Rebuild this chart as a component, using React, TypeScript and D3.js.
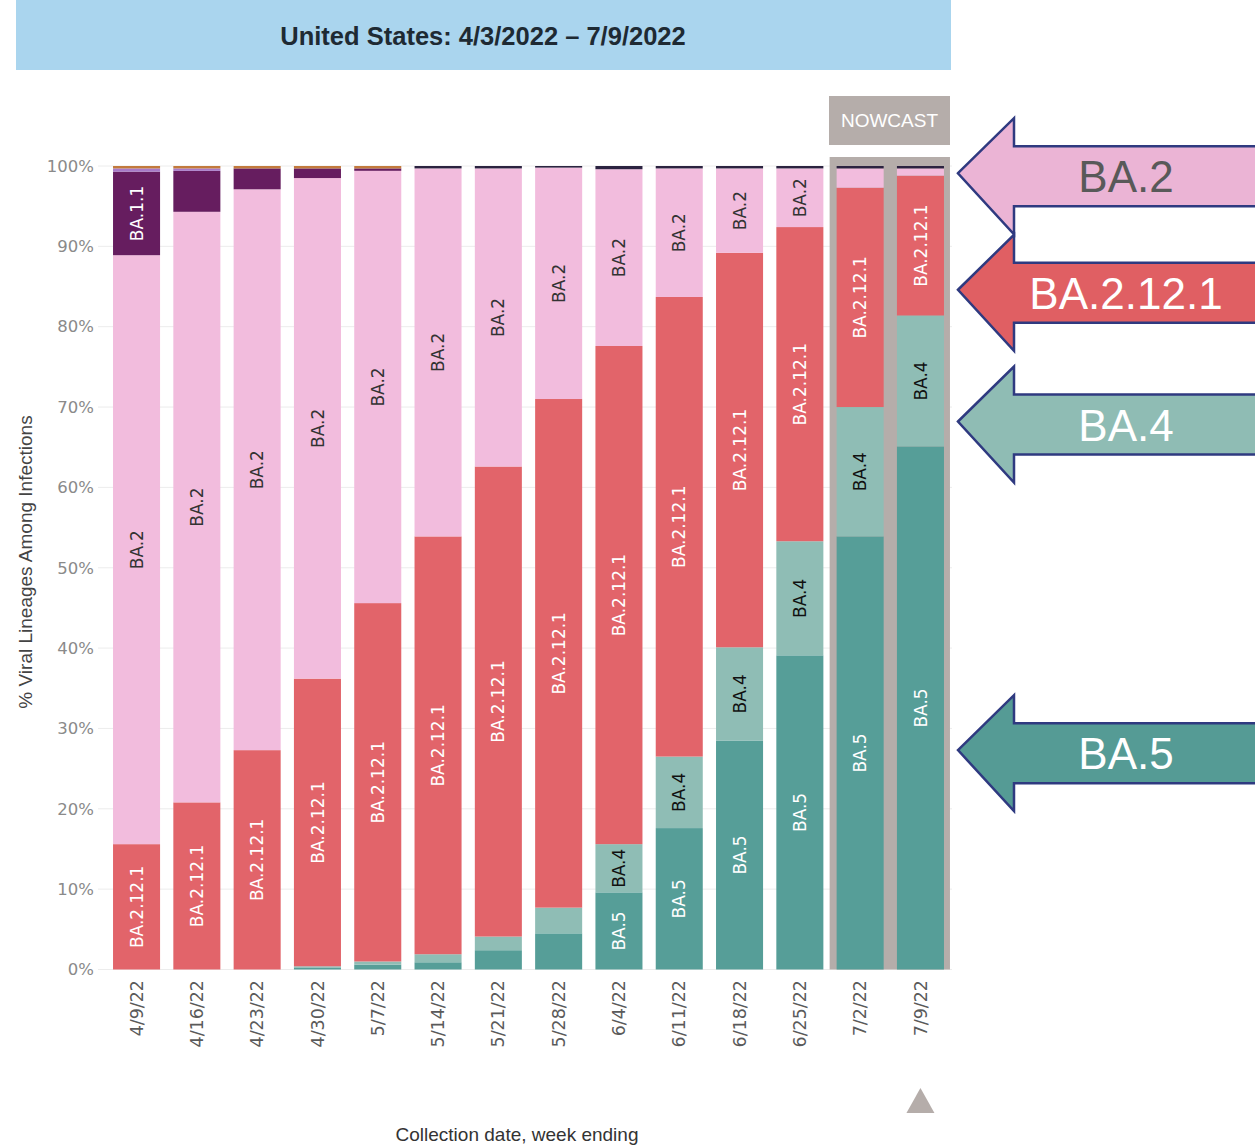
import * as d3 from "d3";

// week ending dates (x categories)
const weeks = ["4/9/22", "4/16/22", "4/23/22", "4/30/22", "5/7/22", "5/14/22", "5/21/22", "5/28/22", "6/4/22", "6/11/22", "6/18/22", "6/25/22", "7/2/22", "7/9/22"];
const nowcastWeeks = ["7/2/22", "7/9/22"];

// lineage shares in %, bottom -> top of each bar
const lineages = ["BA.5", "BA.4", "BA.2.12.1", "BA.2", "BA.1.1", "BA.1", "B.1.1.529", "Other"];
const ba5 = [0, 0, 0, 0.2, 0.6, 0.9, 2.4, 4.5, 9.6, 17.6, 28.5, 39.1, 53.9, 65.1];
const ba4 = [0, 0, 0, 0.2, 0.4, 1.0, 1.7, 3.2, 6.0, 8.9, 11.6, 14.2, 16.1, 16.3];
const ba2121 = [15.6, 20.8, 27.3, 35.8, 44.6, 52.0, 58.5, 63.3, 62.0, 57.2, 49.1, 39.1, 27.3, 17.4];
const ba2 = [73.3, 73.5, 69.8, 62.3, 53.8, 45.8, 37.1, 28.8, 22.0, 16.0, 10.5, 7.3, 2.4, 0.9];
const ba11 = [10.4, 5.1, 2.6, 1.2, 0.3, 0, 0, 0, 0, 0, 0, 0, 0, 0];
const ba1 = [0.4, 0.3, 0, 0, 0, 0, 0, 0, 0, 0, 0, 0, 0, 0];
const b11529 = [0, 0, 0, 0, 0, 0.3, 0.3, 0.2, 0.4, 0.3, 0.3, 0.3, 0.3, 0.3];
const other = [0.3, 0.3, 0.3, 0.3, 0.3, 0, 0, 0, 0, 0, 0, 0, 0, 0];

const yTicks = [0, 10, 20, 30, 40, 50, 60, 70, 80, 90, 100];

// callout arrows on the right: label and the % level they point at
const calloutLabels = ["BA.2", "BA.2.12.1", "BA.4", "BA.5"];
const calloutLevels = [99.1, 84.6, 68.2, 27.3];

const colors: Record<string, string> = {
  "BA.5": "#569e98",
  "BA.4": "#8fbdb5",
  "BA.2.12.1": "#e2646a",
  "BA.2": "#f2bcdd",
  "BA.1.1": "#661d5f",
  "BA.1": "#a77ac9",
  "B.1.1.529": "#2b2340",
  Other: "#c27a3c",
};
const labelColors: Record<string, string> = {
  "BA.5": "#ffffff",
  "BA.4": "#111111",
  "BA.2.12.1": "#ffffff",
  "BA.2": "#333333",
  "BA.1.1": "#ffffff",
};
const arrowFill: Record<string, string> = {
  "BA.2": "#ebb4d5",
  "BA.2.12.1": "#e05f63",
  "BA.4": "#8fbcb4",
  "BA.5": "#559b95",
};

const W = 1255;
const H = 1145;
const NOW_GRAY = "#b5adaa";
const sans = "'Liberation Sans', Arial, sans-serif";
const dejavu = "'DejaVu Sans', sans-serif";

export default function App() {
  const series = [ba5, ba4, ba2121, ba2, ba11, ba1, b11529, other];
  const table = weeks.map((w, i) => {
    const row: any = { week: w };
    lineages.forEach((l, k) => (row[l] = series[k][i]));
    return row;
  });
  const stacked = d3.stack<any>().keys(lineages)(table);

  const x = d3.scaleBand<string>().domain(weeks).range([106.4, 950.6]).paddingInner(0.22).paddingOuter(0.11);
  const y = d3.scaleLinear().domain([0, 100]).range([969.5, 166]);

  const firstNow = x(nowcastWeeks[0])!;
  const lastNow = x(nowcastWeeks[nowcastWeeks.length - 1])! + x.bandwidth();
  const labelFont = 17;

  return (
    <svg width={W} height={H} style={{ position: "absolute", left: 0, top: 0 }}>
      <rect width={W} height={H} fill="#ffffff" />

      {/* title banner */}
      <rect x={16} y={0} width={935} height={70} fill="#aad5ee" />
      <text x={483} y={45} textAnchor="middle" fontFamily={sans} fontWeight="bold" fontSize={25.5} fill="#1e2a33">
        United States: 4/3/2022 – 7/9/2022
      </text>

      {/* gridlines */}
      {yTicks.map((t) => (
        <line key={t} x1={98} x2={952} y1={y(t)} y2={y(t)} stroke="#ececec" strokeWidth={1} />
      ))}

      {/* nowcast frame */}
      <rect x={829} y={96} width={121} height={49} fill={NOW_GRAY} />
      <text x={889.5} y={127} textAnchor="middle" fontFamily={sans} fontSize={19} fill="#ffffff">
        NOWCAST
      </text>
      <rect x={firstNow - 7} y={y(100) - 9} width={lastNow - firstNow + 13} height={y(0) - y(100) + 9} fill={NOW_GRAY} />

      {/* stacked bars */}
      {stacked.map((s) =>
        s.map((d, i) => {
          const h = y(d[0]) - y(d[1]);
          if (h <= 0) return null;
          return (
            <rect key={s.key + i} x={x(weeks[i])} y={y(d[1])} width={x.bandwidth()} height={h} fill={colors[s.key]} />
          );
        })
      )}

      {/* in-bar labels */}
      {stacked.map((s) =>
        s.map((d, i) => {
          const h = y(d[0]) - y(d[1]);
          const need = s.key.length * 0.56 * labelFont + 8;
          if (!labelColors[s.key] || h < need) return null;
          const cx = x(weeks[i])! + x.bandwidth() / 2;
          const cy = (y(d[0]) + y(d[1])) / 2;
          return (
            <text
              key={"l" + s.key + i}
              transform={`translate(${cx},${cy}) rotate(-90)`}
              textAnchor="middle"
              dy="0.36em"
              fontFamily={dejavu}
              fontSize={labelFont}
              fill={labelColors[s.key]}
            >
              {s.key}
            </text>
          );
        })
      )}

      {/* y axis labels */}
      {yTicks.map((t) => (
        <text key={"t" + t} x={94} y={y(t)} dy="0.35em" textAnchor="end" fontFamily={dejavu} fontSize={16.5} fill="#8a8a8a">
          {t}%
        </text>
      ))}
      <text transform={`translate(32,562) rotate(-90)`} textAnchor="middle" fontFamily={sans} fontSize={19} fill="#444">
        % Viral Lineages Among Infections
      </text>

      {/* x axis labels */}
      {weeks.map((w) => (
        <text
          key={"x" + w}
          transform={`translate(${x(w)! + x.bandwidth() / 2},980) rotate(-90)`}
          textAnchor="end"
          dy="0.35em"
          fontFamily={dejavu}
          fontSize={17.5}
          fill="#5a5a5a"
        >
          {w}
        </text>
      ))}
      <text x={517} y={1141} textAnchor="middle" fontFamily={sans} fontSize={19} fill="#333">
        Collection date, week ending
      </text>

      {/* nowcast marker */}
      {(() => {
        const cx = x(nowcastWeeks[nowcastWeeks.length - 1])! + x.bandwidth() / 2;
        return <path d={`M${cx},1088 L${cx + 14},1113 L${cx - 14},1113 Z`} fill={NOW_GRAY} />;
      })()}

      {/* callout arrows */}
      {calloutLabels.map((lab, i) => {
        const ty = y(calloutLevels[i]);
        const cy = ty + 3;
        const tipX = 958;
        const backX = 1014;
        const head = 58;
        const shaft = 30;
        const d = `M${tipX},${ty} L${backX},${cy - head} L${backX},${cy - shaft} L${W + 10},${cy - shaft} L${W + 10},${cy + shaft} L${backX},${cy + shaft} L${backX},${cy + head} Z`;
        return (
          <g key={"a" + lab}>
            <path d={d} fill={arrowFill[lab]} stroke="#2f3a80" strokeWidth={2.5} strokeLinejoin="miter" />
            <text x={1126} y={ty + 19} textAnchor="middle" fontFamily={sans} fontSize={44} fill={lab === "BA.2" ? "#595959" : "#ffffff"}>
              {lab}
            </text>
          </g>
        );
      })}
    </svg>
  );
}
